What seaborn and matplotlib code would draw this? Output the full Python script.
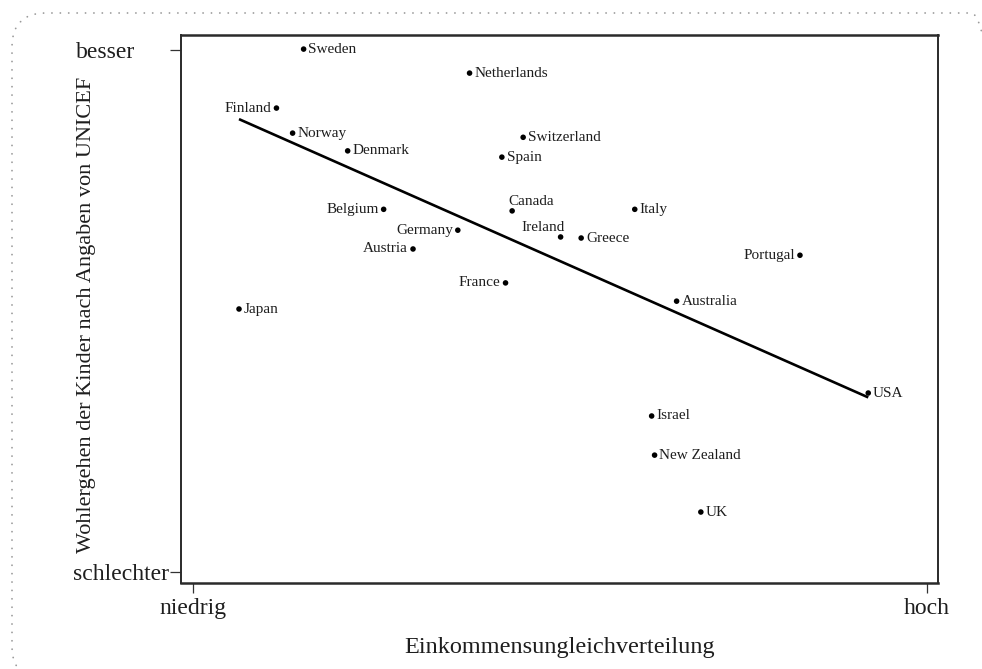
import matplotlib
matplotlib.use("Agg")
import matplotlib.pyplot as plt
import matplotlib.transforms as mtransforms
from matplotlib.patches import FancyBboxPatch
import seaborn as sns
import pandas as pd

# ---- data (0 = niedrig/schlechter, 10 = hoch/besser) ----
countries = ["Sweden", "Netherlands", "Finland", "Norway", "Denmark", "Switzerland",
             "Spain", "Belgium", "Germany", "Austria", "France", "Japan", "Canada",
             "Italy", "Ireland", "Greece", "Portugal", "Australia", "USA", "Israel",
             "New Zealand", "UK"]
inequality = [1.51, 3.77, 1.14, 1.36, 2.11, 4.50, 4.21, 2.60, 3.61, 3.00, 4.26, 0.63,
              4.35, 6.02, 5.01, 5.29, 8.27, 6.59, 9.20, 6.25, 6.29, 6.92]
wellbeing = [10.02, 9.56, 8.89, 8.41, 8.07, 8.33, 7.95, 6.95, 6.55, 6.19, 5.54, 5.04,
             6.92, 6.95, 6.42, 6.40, 6.07, 5.19, 3.43, 2.99, 2.24, 1.15]
x_ticks = [0, 10]
x_ticklabels = ["niedrig", "hoch"]
y_ticks = [0, 10]
y_ticklabels = ["schlechter", "besser"]
x_title = "Einkommensungleichverteilung"
y_title = "Wohlergehen der Kinder nach Angaben von UNICEF"

df = pd.DataFrame({"country": countries, "x": inequality, "y": wellbeing})

# label placement (style only)
left_labels = {"Finland", "Belgium", "Germany", "Austria", "France", "Portugal"}
above_left = {"Canada"}
above_right = {"Ireland"}

sns.set_style("white")
plt.rcParams["font.family"] = ["Liberation Serif", "DejaVu Serif"]

fig = plt.figure(figsize=(9.82, 6.69), dpi=100)
ax = fig.add_axes([181 / 982, 1 - 583 / 669, (938 - 181) / 982, (583 - 35) / 669])

sns.regplot(data=df, x="x", y="y", ax=ax, scatter=False, ci=None,
            line_kws={"color": "black", "lw": 1.9, "solid_capstyle": "butt"})
sns.scatterplot(data=df, x="x", y="y", ax=ax, s=16, color="black",
                edgecolor="none", zorder=3)

txtcol = "#1e1e1e"
for c, xv, yv in zip(countries, inequality, wellbeing):
    if c in left_labels:
        ax.annotate(c, (xv, yv), xytext=(-3.5, 0), textcoords="offset points",
                    ha="right", va="center", fontsize=11, color=txtcol)
    elif c in above_left:
        ax.annotate(c, (xv, yv), xytext=(-3, 4.5), textcoords="offset points",
                    ha="left", va="baseline", fontsize=11, color=txtcol)
    elif c in above_right:
        ax.annotate(c, (xv, yv), xytext=(3, 4), textcoords="offset points",
                    ha="right", va="baseline", fontsize=11, color=txtcol)
    else:
        ax.annotate(c, (xv, yv), xytext=(3.5, 0), textcoords="offset points",
                    ha="left", va="center", fontsize=11, color=txtcol)

ax.set_xlim(-0.16, 10.15)
ax.set_ylim(-0.21, 10.29)
ax.set_xticks(x_ticks)
ax.set_xticklabels(x_ticklabels, fontsize=17, color=txtcol)
ax.set_yticks(y_ticks)
ax.set_yticklabels(y_ticklabels, fontsize=17, color=txtcol)
ax.tick_params(axis="x", direction="out", length=7, width=0.9, color="#333333",
               pad=4, bottom=True)
ax.tick_params(axis="y", direction="out", length=8, width=0.9, color="#333333",
               pad=1, left=True)
ax.set_xlabel(x_title, fontsize=17.5, color=txtcol, labelpad=13)
ax.set_ylabel(y_title, fontsize=16, color=txtcol)
ax.yaxis.set_label_coords((96 - 181) / 757, 0.49)
for side, sp in ax.spines.items():
    sp.set_visible(True)
    sp.set_color("#2a2a2a")
    sp.set_linewidth(1.4 if side in ("left", "right") else 1.8)

# shift "besser" label a bit further left, as in the reference
lbl = ax.get_yticklabels()[1]
lbl.set_transform(lbl.get_transform() +
                  mtransforms.ScaledTranslation(-24 / 72, 0, fig.dpi_scale_trans))

# dotted rounded frame around the figure (right and bottom edges run off the picture)
frame = FancyBboxPatch((12, -11), 993, 667, boxstyle="round,pad=0,rounding_size=34",
                       transform=mtransforms.IdentityTransform(), fill=False,
                       edgecolor="#9a9a9a", linewidth=1.3,
                       linestyle=(0, (0.05, 4.6)), capstyle="round")
fig.add_artist(frame)

fig.savefig("out.png", dpi=100)
